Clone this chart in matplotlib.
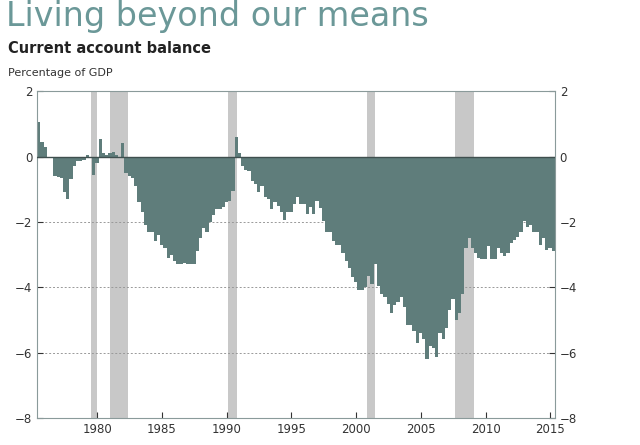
import matplotlib
matplotlib.use("Agg")
import matplotlib.pyplot as plt
import numpy as np

START_YEAR = 1975.35
QUARTERLY_BALANCE = [
    1.05, 0.45, 0.28, 0.0, -0.02, -0.6, -0.62, -0.65, -1.1, -1.3,
    -0.68, -0.3, -0.15, -0.15, -0.1, 0.05, -0.05, -0.55, -0.2, 0.55,
    0.1, 0.05, 0.1, 0.15, 0.05, -0.05, 0.4, -0.5, -0.6, -0.65,
    -0.9, -1.4, -1.7, -2.1, -2.3, -2.3, -2.6, -2.4, -2.7, -2.8,
    -3.1, -3.0, -3.2, -3.3, -3.3, -3.25, -3.3, -3.3, -3.3, -2.9,
    -2.5, -2.2, -2.3, -2.0, -1.8, -1.6, -1.6, -1.55, -1.4, -1.35,
    -1.05, 0.6, 0.1, -0.3, -0.4, -0.45, -0.75, -0.85, -1.1, -0.9,
    -1.25, -1.3, -1.6, -1.4, -1.5, -1.7, -1.95, -1.7, -1.7, -1.45,
    -1.25,
    -1.46, -1.46, -1.77, -1.55, -1.77, -1.36, -1.57, -1.97, -2.3, -2.3,
    -2.6, -2.7, -2.7, -2.95, -3.2, -3.4, -3.7, -3.85, -4.1, -4.1,
    -4.0, -3.65, -3.9, -3.3, -3.95, -4.2, -4.3, -4.5, -4.8, -4.55,
    -4.45, -4.3, -4.6, -5.15, -5.15, -5.35, -5.7, -5.4, -5.6, -6.2,
    -5.8, -5.85, -6.15, -5.4, -5.6, -5.25, -4.7, -4.35, -5.0, -4.8,
    -4.2, -2.8, -2.5, -2.8, -2.95, -3.1, -3.15, -3.15, -2.75, -3.15,
    -3.15, -2.8, -2.95, -3.05, -2.95, -2.65, -2.55, -2.45, -2.3, -1.97,
    -2.15, -2.1, -2.3, -2.3, -2.7, -2.5, -2.85, -2.8, -2.9,
]
RECESSIONS = [(1979.53, 1980.0), (1981.0, 1982.4), (1990.07, 1990.77),
              (2000.8, 2001.45), (2007.65, 2009.1)]
X_TICKS = [1980, 1985, 1990, 1995, 2000, 2005, 2010, 2015]
Y_TICKS = [2, 0, -2, -4, -6, -8]

BAR_COLOR = "#5f7d7b"
TEXT_COLOR = "#333333"

fig = plt.figure(figsize=(6.4, 4.45), dpi=100)
ax = fig.add_axes([0.058, 0.061, 0.809, 0.734])

for a, b in RECESSIONS:
    ax.axvspan(a, b, color="#c8c8c8", zorder=0, lw=0)

x = START_YEAR + 0.25 * np.arange(len(QUARTERLY_BALANCE))
ax.bar(x, QUARTERLY_BALANCE, width=0.25, align="edge", color=BAR_COLOR,
       linewidth=0, zorder=2)

for y in [-2, -4, -6]:
    ax.axhline(y, color="#999999", lw=0.7, ls=(0, (2, 2)), zorder=1)
ax.axhline(0, color="#3f4f4e", lw=1.0, zorder=3)

ax.set_xlim(START_YEAR, x[-1] + 0.25)
ax.set_ylim(-8, 2)
ax.set_xticks(X_TICKS)
ax.set_yticks(Y_TICKS)
ax.tick_params(axis="both", labelsize=8.5, colors=TEXT_COLOR, length=4,
               direction="in", right=True, labelright=True)
for s in ax.spines.values():
    s.set_color("#8a9a9a")

fig.text(0.01, 0.925, "Living beyond our means", fontsize=24,
         color="#6b9898", va="bottom")
fig.text(0.013, 0.875, "Current account balance", fontsize=10.5,
         fontweight="bold", color="#222222", va="bottom")
fig.text(0.013, 0.825, "Percentage of GDP", fontsize=8, color=TEXT_COLOR,
         va="bottom")

fig.savefig("out.png", dpi=100)
